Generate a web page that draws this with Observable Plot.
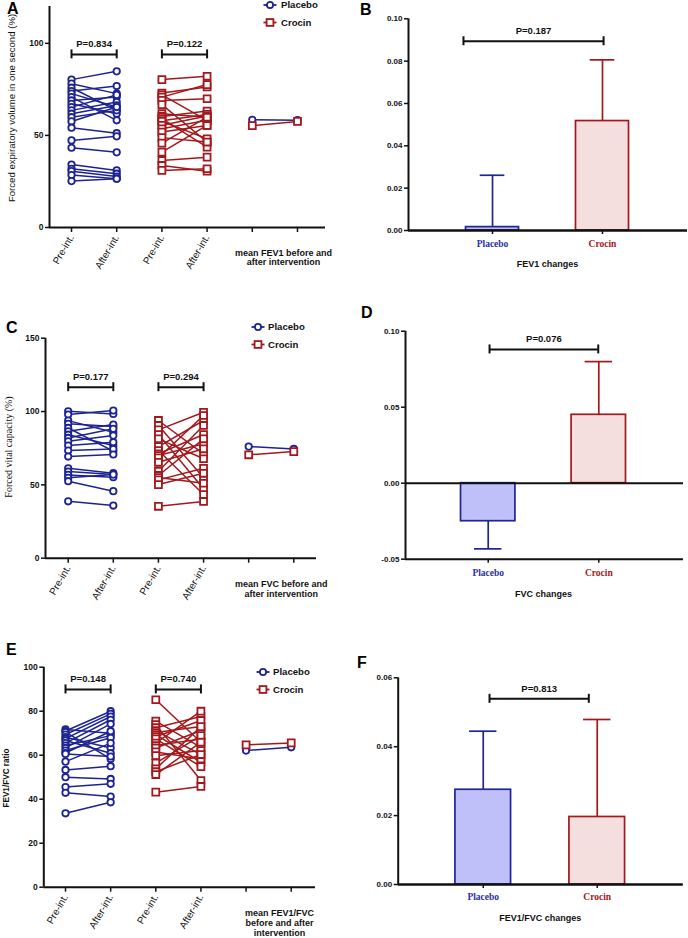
<!DOCTYPE html>
<html><head><meta charset="utf-8">
<script src="https://cdn.jsdelivr.net/npm/d3@7"></script>
<script src="https://cdn.jsdelivr.net/npm/@observablehq/plot@0.6"></script>
<style>
body{margin:0;background:#fff;}
#fig{position:relative;width:688px;height:938px;overflow:hidden;font-family:"Liberation Sans",Arial,sans-serif;}
.panel{position:absolute;}
.ytitle{position:absolute;white-space:nowrap;transform:translate(-50%,-50%) rotate(-90deg);color:#111;}
#overlay{position:absolute;left:0;top:0;pointer-events:none;}
</style>
</head><body>
<div id="fig">
  <div class="panel" id="pA" style="left:0;top:0"></div>
  <div class="panel" id="pB" style="left:340px;top:0"></div>
  <div class="panel" id="pC" style="left:0;top:300px"></div>
  <div class="panel" id="pD" style="left:340px;top:300px"></div>
  <div class="panel" id="pE" style="left:0;top:610px"></div>
  <div class="panel" id="pF" style="left:340px;top:610px"></div>
  <div class="ytitle" style="left:11px;top:108px;font-size:9.6px;">Forced expiratory volume in one second (%)</div>
  <div class="ytitle" style="left:8px;top:447px;font-size:10px;font-family:'Liberation Serif','Times New Roman',serif;">Forced vital capacity (%)</div>
  <div class="ytitle" style="left:6px;top:778px;font-size:8.2px;font-weight:bold;">FEV1/FVC ratio</div>
  <svg id="overlay" width="688" height="938"></svg>
</div>
<script>
// ---------- data ----------
const groups = ["Placebo", "Crocin"];
const xTickLabels = ["Pre-int.", "After-int.", "Pre-int.", "After-int."];

// Panel A: FEV1 (%)
const fev1PlaceboPre  = [80.3, 78.1, 75.9, 74.1, 72.7, 70.8, 69.0, 67.2, 65.4, 63.6, 61.8, 59.9, 57.6, 54.2, 47.3, 43.3, 34.2, 31.9, 30.6, 28.5, 25.2];
const fev1PlaceboPost = [84.8, 72.7, 63.6, 76.8, 65.4, 58.2, 70.8, 61.8, 72.0, 68.1, 66.3, 63.6, 65.4, 51.2, 49.5, 40.8, 31.0, 29.2, 27.7, 26.5, 26.5];
const fev1CrocinPre   = [80.3, 73.0, 72.0, 70.8, 69.0, 66.7, 61.8, 60.3, 59.1, 58.0, 57.6, 55.5, 53.6, 51.8, 48.8, 45.8, 40.9, 36.4, 33.7, 31.0];
const fev1CrocinPost  = [82.1, 76.3, 58.2, 77.6, 69.9, 46.4, 59.9, 63.2, 43.6, 61.4, 48.2, 60.5, 58.2, 55.4, 46.4, 59.9, 55.4, 38.2, 30.6, 31.9];
const fev1MeanPlacebo = [58.5, 58.3];
const fev1MeanCrocin  = [55.3, 57.6];
const fev1PValues = ["P=0.834", "P=0.122"];

// Panel C: FVC (%)
const fvcPlaceboPre  = [100.2, 97.9, 93.8, 91.6, 88.8, 86.5, 84.2, 82.0, 79.7, 76.8, 73.4, 69.3, 61.3, 59.1, 56.8, 54.8, 52.5, 38.8];
const fvcPlaceboPost = [98.4, 100.7, 85.9, 89.8, 73.0, 91.1, 76.8, 88.2, 83.6, 79.1, 74.5, 70.7, 58.0, 57.0, 55.2, 57.0, 45.7, 35.9];
const fvcCrocinPre   = [93.9, 90.5, 87.5, 84.3, 81.4, 76.1, 73.4, 71.2, 70.0, 68.4, 65.4, 59.3, 56.4, 55.0, 53.4, 50.2, 35.4];
const fvcCrocinPost  = [71.2, 54.8, 99.5, 47.3, 67.8, 93.9, 43.4, 84.3, 78.0, 97.3, 74.6, 90.5, 81.4, 51.1, 61.3, 57.9, 38.7];
const fvcMeanPlacebo = [76.1, 74.5];
const fvcMeanCrocin  = [70.5, 72.7];
const fvcPValues = ["P=0.177", "P=0.294"];

// Panel E: FEV1/FVC ratio
const ratioPlaceboPre  = [71.7, 71.0, 70.5, 69.4, 68.2, 67.5, 66.7, 65.5, 64.4, 63.3, 62.1, 61.0, 60.6, 57.1, 53.3, 50.0, 45.5, 42.9, 33.6];
const ratioPlaceboPost = [70.0, 80.0, 58.3, 78.8, 63.3, 77.6, 60.9, 76.1, 68.9, 74.2, 67.9, 70.9, 59.4, 65.5, 55.0, 49.2, 47.0, 41.2, 38.6];
const ratioCrocinPre   = [85.2, 75.5, 73.9, 72.5, 71.2, 70.3, 69.4, 68.4, 67.4, 65.5, 64.4, 63.3, 61.5, 59.8, 56.4, 53.8, 52.5, 51.2, 43.2];
const ratioCrocinPost  = [65.9, 63.6, 48.5, 77.6, 60.3, 73.0, 56.8, 75.8, 54.8, 80.0, 67.4, 71.2, 58.3, 62.1, 68.9, 73.0, 60.3, 65.9, 45.8];
const ratioMeanPlacebo = [62.1, 63.6];
const ratioMeanCrocin  = [64.7, 65.6];
const ratioPValues = ["P=0.148", "P=0.740"];

// Bar panels: mean change and end of error bar
const fev1Change    = [0.0016, 0.0517];
const fev1ErrEnd    = [0.0261, 0.0806];
const fev1ChangeP   = "P=0.187";
const fvcChange     = [-0.025, 0.045];
const fvcErrEnd     = [-0.0432, 0.080];
const fvcChangeP    = "P=0.076";
const ratioChange   = [0.0275, 0.0196];
const ratioErrEnd   = [0.0445, 0.0479];
const ratioChangeP  = "P=0.813";

// ---------- styles ----------
const BLUE = "#1c2390", RED = "#a2181c";
const FILL = {Placebo: "#bfc0fa", Crocin: "#f5dede"};
const STROKE = {Placebo: "#1f2592", Crocin: "#a2181c"};
const LABEL = {Placebo: "#2b2fa0", Crocin: "#a2181c"};
const SANS = "Liberation Sans, Arial, sans-serif";
const SERIF = "Liberation Serif, Times New Roman, serif";

function paired(el, o) {
  const links = [];
  o.plPre.forEach((v, i) => links.push({g: "Placebo", x1: 1, x2: 2, y1: v, y2: o.plPost[i]}));
  o.crPre.forEach((v, i) => links.push({g: "Crocin", x1: 3, x2: 4, y1: v, y2: o.crPost[i]}));
  links.push({g: "Placebo", x1: 5, x2: 6, y1: o.mPl[0], y2: o.mPl[1]});
  links.push({g: "Crocin", x1: 5, x2: 6, y1: o.mCr[0], y2: o.mCr[1]});
  const dots = links.flatMap(d => [{g: d.g, x: d.x1, y: d.y1}, {g: d.g, x: d.x2, y: d.y2}]);
  const pl = l => l.g === "Placebo", cr = l => l.g === "Crocin";
  const brackets = [{x1: 1, x2: 2, y: o.by, t: o.p[0]}, {x1: 3, x2: 4, y: o.by, t: o.p[1]}];
  const ends = brackets.flatMap(b => [{x: b.x1, y: b.y}, {x: b.x2, y: b.y}]);
  const chart = Plot.plot({
    width: o.w, height: o.h,
    marginLeft: o.ml, marginRight: o.mr, marginTop: o.mt, marginBottom: o.mb,
    x: {type: "linear", domain: o.xd},
    y: {domain: o.yd},
    style: {fontFamily: SANS, background: "transparent", overflow: "visible", color: "#111"},
    marks: [
      Plot.link(links.filter(pl), {x1: "x1", y1: "y1", x2: "x2", y2: "y2", stroke: BLUE, strokeWidth: 1.5}),
      Plot.dot(dots.filter(pl), {x: "x", y: "y", symbol: "circle", r: 3.2, stroke: BLUE, fill: "white", strokeWidth: 1.8}),
      Plot.link(links.filter(cr), {x1: "x1", y1: "y1", x2: "x2", y2: "y2", stroke: RED, strokeWidth: 1.5}),
      Plot.dot(dots.filter(cr), {x: "x", y: "y", symbol: "square", r: 3.9, stroke: RED, fill: "white", strokeWidth: 1.8}),
      Plot.ruleY([o.yd[0]], {stroke: "#111", strokeWidth: 2}),
      Plot.ruleX([o.xd[0]], {stroke: "#111", strokeWidth: 2}),
      Plot.axisY({ticks: o.yt, tickSize: 4, tickPadding: 2, fontSize: 8.5, fontWeight: "bold", label: null, strokeWidth: 1.5}),
      Plot.axisX([1, 2, 3, 4], {tickSize: 5, tickPadding: 3, tickRotate: -60, tickFormat: d => xTickLabels[d - 1], fontSize: 10, label: null, strokeWidth: 1.5}),
      Plot.axisX([5, 6], {tickSize: 5, tickFormat: () => "", label: null, strokeWidth: 1.5}),
      Plot.ruleY(brackets, {y: "y", x1: "x1", x2: "x2", stroke: "#111", strokeWidth: 2}),
      Plot.ruleX(ends, {x: "x", y1: "y", y2: "y", insetTop: -4.5, insetBottom: -4.5, stroke: "#111", strokeWidth: 2}),
      Plot.text(brackets, {x: d => (d.x1 + d.x2) / 2, y: "y", text: "t", dy: -10, fontSize: 9.5, fontWeight: "bold", fill: "#111"}),
      Plot.text([o.meanLabel], {x: o.mx, y: o.yd[0], dy: o.mdy, lineAnchor: "top", lineHeight: 1.1, fontSize: 9, fontWeight: "bold", fill: "#111"})
    ]
  });
  document.getElementById(el).append(chart);
}

function bars(el, o) {
  const rows = groups.map((g, i) => ({g, x: i + 1, v: o.v[i], e: o.e[i]}));
  const hw = o.hw, cw = o.cw;
  const marks = [
    Plot.ruleX(rows, {x: "x", y1: "v", y2: "e", stroke: d => STROKE[d.g], strokeWidth: 1.7}),
    Plot.ruleY(rows, {y: "e", x1: d => d.x - cw, x2: d => d.x + cw, stroke: d => STROKE[d.g], strokeWidth: 1.7}),
    Plot.rectY(rows, {x1: d => d.x - hw, x2: d => d.x + hw, y1: 0, y2: "v", fill: d => FILL[d.g], stroke: d => STROKE[d.g], strokeWidth: 1.7}),
    Plot.ruleX([o.xd[0]], {stroke: "#111", strokeWidth: 2}),
    Plot.ruleY([0], {stroke: "#111", strokeWidth: 2}),
    Plot.ruleY([o.yd[0]], {stroke: "#111", strokeWidth: 2}),
    Plot.axisY({ticks: o.yt, tickSize: 4, tickPadding: 2, tickFormat: d => d.toFixed(2), fontSize: 8, fontWeight: "bold", label: null, strokeWidth: 1.5}),
    Plot.axisX([1, 2], {tickSize: 4, tickFormat: () => "", label: null, strokeWidth: 1.5}),
    Plot.text(rows, {x: "x", y: o.yd[0], text: "g", dy: o.ldy, fill: d => LABEL[d.g], fontFamily: SERIF, fontWeight: "bold", fontSize: 9.5}),
    Plot.text([o.title], {x: 1.5, y: o.yd[0], dy: o.tdy, fontSize: 9, fontWeight: "bold", fill: "#111"}),
    Plot.ruleY([o.br], {y: "y", x1: "x1", x2: "x2", stroke: "#111", strokeWidth: 2}),
    Plot.ruleX([{x: o.br.x1, y: o.br.y}, {x: o.br.x2, y: o.br.y}], {x: "x", y1: "y", y2: "y", insetTop: -4.5, insetBottom: -4.5, stroke: "#111", strokeWidth: 2}),
    Plot.text([o.br], {x: d => (d.x1 + d.x2) / 2, y: "y", text: "t", dy: -10, fontSize: 9.5, fontWeight: "bold", fill: "#111"})
  ];
  const chart = Plot.plot({
    width: o.w, height: o.h,
    marginLeft: o.ml, marginRight: o.mr, marginTop: o.mt, marginBottom: o.mb,
    x: {type: "linear", domain: o.xd},
    y: {domain: o.yd},
    style: {fontFamily: SANS, background: "transparent", overflow: "visible", color: "#111"},
    marks
  });
  document.getElementById(el).append(chart);
}

paired("pA", {w: 340, h: 300, ml: 49, mr: 15, mt: 6, mb: 73, xd: [0.513, 6.62], yd: [0, 120], yt: [0, 50, 100],
  plPre: fev1PlaceboPre, plPost: fev1PlaceboPost, crPre: fev1CrocinPre, crPost: fev1CrocinPost,
  mPl: fev1MeanPlacebo, mCr: fev1MeanCrocin, p: fev1PValues, by: 94,
  meanLabel: "mean FEV1 before and\nafter intervention", mx: 5.69, mdy: 21});

paired("pC", {w: 340, h: 310, ml: 45, mr: 24, mt: 37.7, mb: 52.3, xd: [0.497, 6.503], yd: [0, 150], yt: [0, 50, 100, 150],
  plPre: fvcPlaceboPre, plPost: fvcPlaceboPost, crPre: fvcCrocinPre, crPost: fvcCrocinPost,
  mPl: fvcMeanPlacebo, mCr: fvcMeanCrocin, p: fvcPValues, by: 116.6,
  meanLabel: "mean FVC before and\nafter intervention", mx: 5.72, mdy: 22});

paired("pE", {w: 340, h: 328, ml: 43.3, mr: 25, mt: 56.7, mb: 51.3, xd: [0.519, 6.538], yd: [0, 100], yt: [0, 20, 40, 60, 80, 100],
  plPre: ratioPlaceboPre, plPost: ratioPlaceboPost, crPre: ratioCrocinPre, crPost: ratioCrocinPost,
  mPl: ratioMeanPlacebo, mCr: ratioMeanCrocin, p: ratioPValues, by: 89.9,
  meanLabel: "mean FEV1/FVC\nbefore and after\nintervention", mx: 5.74, mdy: 22});

bars("pB", {w: 348, h: 300, ml: 68, mr: 1, mt: 18.3, mb: 70, xd: [0.236, 2.773], yd: [0, 0.1], yt: [0, 0.02, 0.04, 0.06, 0.08, 0.1],
  v: fev1Change, e: fev1ErrEnd, hw: 0.241, cw: 0.112, ldy: 13, tdy: 34, title: "FEV1 changes",
  br: {x1: 0.736, x2: 2.01, y: 0.0894, t: fev1ChangeP}});

bars("pD", {w: 348, h: 310, ml: 65, mr: 5, mt: 30.7, mb: 51.3, xd: [0.252, 2.766], yd: [-0.05, 0.1], yt: [-0.05, 0, 0.05, 0.1],
  v: fvcChange, e: fvcErrEnd, hw: 0.246, cw: 0.124, ldy: 14, tdy: 35, title: "FVC changes",
  br: {x1: 1.012, x2: 1.995, y: 0.088, t: fvcChangeP}});

bars("pF", {w: 348, h: 328, ml: 57.7, mr: 5.3, mt: 67.3, mb: 54, xd: [0.254, 2.754], yd: [0, 0.06], yt: [0, 0.02, 0.04, 0.06],
  v: ratioChange, e: ratioErrEnd, hw: 0.244, cw: 0.12, ldy: 12, tdy: 34, title: "FEV1/FVC changes",
  br: {x1: 1.055, x2: 1.926, y: 0.0539, t: ratioChangeP}});

// ---------- overlay: panel letters and legends ----------
const ov = d3.select("#overlay");
const letters = [["A", 7, 14], ["B", 360, 15], ["C", 6, 333], ["D", 361, 318], ["E", 6, 655], ["F", 357, 668]];
ov.selectAll("text.tag").data(letters).join("text").attr("class", "tag")
  .attr("x", d => d[1]).attr("y", d => d[2]).text(d => d[0])
  .attr("font-family", SANS).attr("font-weight", "bold").attr("font-size", 16).attr("fill", "#000");

const legends = [[270, 5, 281], [258, 327, 268], [263, 672, 273]];
legends.forEach(([mx, my, tx]) => {
  groups.forEach((g, i) => {
    const y = my + i * 17.5;
    const c = g === "Placebo" ? BLUE : RED;
    ov.append("line").attr("x1", mx - 6.5).attr("x2", mx + 6.5).attr("y1", y).attr("y2", y).attr("stroke", c).attr("stroke-width", 1.8);
    if (g === "Placebo") ov.append("circle").attr("cx", mx).attr("cy", y).attr("r", 3.1).attr("fill", "white").attr("stroke", c).attr("stroke-width", 1.8);
    else ov.append("rect").attr("x", mx - 3.4).attr("y", y - 3.4).attr("width", 6.8).attr("height", 6.8).attr("fill", "white").attr("stroke", c).attr("stroke-width", 1.8);
    ov.append("text").attr("x", tx).attr("y", y).attr("dy", "0.35em").text(g)
      .attr("font-family", SANS).attr("font-weight", "bold").attr("font-size", 9.6).attr("fill", "#111");
  });
});
</script>
</body></html>
